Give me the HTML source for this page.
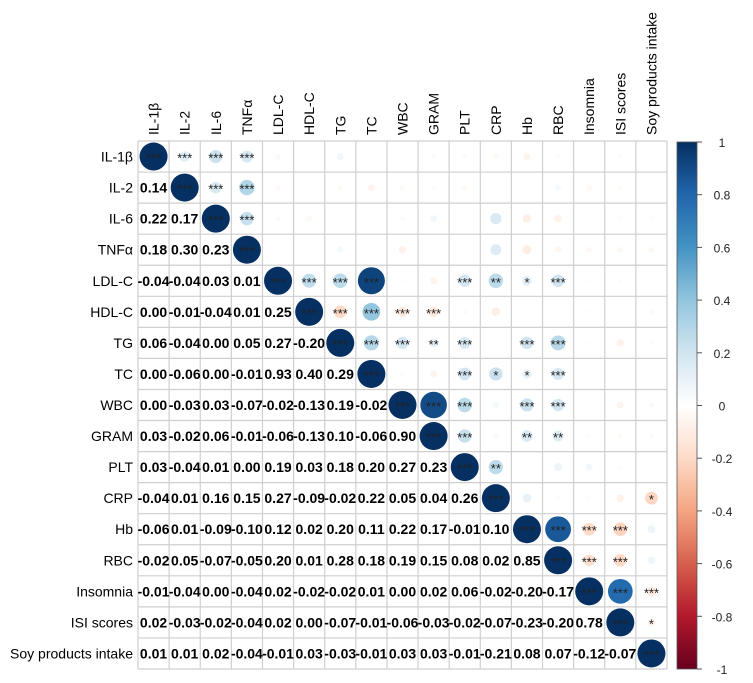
<!DOCTYPE html>
<html><head><meta charset="utf-8"><style>
body{margin:0;background:#fff;}
svg{display:block;font-family:"Liberation Sans",sans-serif;}
</style></head><body>
<svg id="chart" width="753" height="683" viewBox="0 0 753 683"></svg>
<script>
const labels=["IL-1β","IL-2","IL-6","TNFα","LDL-C","HDL-C","TG","TC","WBC","GRAM","PLT","CRP","Hb","RBC","Insomnia","ISI scores","Soy products intake"];
const lower=[
[],
[0.14],
[0.22,0.17],
[0.18,0.30,0.23],
[-0.04,-0.04,0.03,0.01],
[0.00,-0.01,-0.04,0.01,0.25],
[0.06,-0.04,0.00,0.05,0.27,-0.20],
[0.00,-0.06,0.00,-0.01,0.93,0.40,0.29],
[0.00,-0.03,0.03,-0.07,-0.02,-0.13,0.19,-0.02],
[0.03,-0.02,0.06,-0.01,-0.06,-0.13,0.10,-0.06,0.90],
[0.03,-0.04,0.01,0.00,0.19,0.03,0.18,0.20,0.27,0.23],
[-0.04,0.01,0.16,0.15,0.27,-0.09,-0.02,0.22,0.05,0.04,0.26],
[-0.06,0.01,-0.09,-0.10,0.12,0.02,0.20,0.11,0.22,0.17,-0.01,0.10],
[-0.02,0.05,-0.07,-0.05,0.20,0.01,0.28,0.18,0.19,0.15,0.08,0.02,0.85],
[-0.01,-0.04,0.00,-0.04,0.02,-0.02,-0.02,0.01,0.00,0.02,0.06,-0.02,-0.20,-0.17],
[0.02,-0.03,-0.02,-0.04,0.02,0.00,-0.07,-0.01,-0.06,-0.03,-0.02,-0.07,-0.23,-0.20,0.78],
[0.01,0.01,0.02,-0.04,-0.01,0.03,-0.03,-0.01,0.03,0.03,-0.01,-0.21,0.08,0.07,-0.12,-0.07]
];
// significance stars for upper triangle: [row, col, stars]
const stars=[
[0,1,"***"],[0,2,"***"],[0,3,"***"],[1,2,"***"],[1,3,"***"],[2,3,"***"],
[4,5,"***"],[4,6,"***"],[4,7,"***"],[4,10,"***"],[4,11,"**"],[4,12,"*"],[4,13,"***"],
[5,6,"***"],[5,7,"***"],[5,8,"***"],[5,9,"***"],
[6,7,"***"],[6,8,"***"],[6,9,"**"],[6,10,"***"],[6,12,"***"],[6,13,"***"],
[7,10,"***"],[7,11,"*"],[7,12,"*"],[7,13,"***"],
[8,9,"***"],[8,10,"***"],[8,12,"***"],[8,13,"***"],
[9,10,"***"],[9,12,"**"],[9,13,"**"],[10,11,"**"],[11,16,"*"],
[12,13,"***"],[12,14,"***"],[12,15,"***"],[13,14,"***"],[13,15,"***"],
[14,15,"***"],[14,16,"***"],[15,16,"*"]
];
const cbTicks=[1,0.8,0.6,0.4,0.2,0,-0.2,-0.4,-0.6,-0.8,-1];
const pal=["#67001F","#B2182B","#D6604D","#F4A582","#FDDBC7","#FFFFFF","#D1E5F0","#92C5DE","#4393C3","#2166AC","#053061"];

const NS="http://www.w3.org/2000/svg";
const svg=document.getElementById("chart");
const n=labels.length, x0=138, y0=141, cw=(667-138)/n, ch=(669-141)/n;
const cx=j=>x0+(j+0.5)*cw, cy=i=>y0+(i+0.5)*ch;
function hex(h){return [1,3,5].map(k=>parseInt(h.substr(k,2),16));}
function color(r){const t=(r+1)/2*(pal.length-1);const k=Math.min(Math.floor(t),pal.length-2);const f=t-k;
 const a=hex(pal[k]),b=hex(pal[k+1]);return "rgb("+a.map((v,q)=>Math.round(v+(b[q]-v)*f)).join(",")+")";}
function el(tag,attrs,parent){const e=document.createElementNS(NS,tag);for(const k in attrs)e.setAttribute(k,attrs[k]);(parent||svg).appendChild(e);return e;}
function corr(i,j){if(i===j)return 1;return i>j?lower[i][j]:lower[j][i];}

const grid=el("g",{});


for(let k=0;k<=n;k++){
 el("line",{x1:x0,x2:x0+n*cw,y1:y0+k*ch,y2:y0+k*ch,stroke:"#cfcfcf","stroke-width":1.2},grid);
 el("line",{y1:y0,y2:y0+n*ch,x1:x0+k*cw,x2:x0+k*cw,stroke:"#cfcfcf","stroke-width":1.2},grid);
}
for(let i=0;i<n;i++){
 const rl=el("text",{x:133,y:cy(i)+5,"text-anchor":"end","font-size":14,fill:"#000"});
 rl.textContent=labels[i];
 
 
 const cl=el("text",{transform:`translate(${cx(i)+5},135) rotate(-90)`,"font-size":14,fill:"#000"});
 cl.textContent=labels[i];
 
 
}
for(let i=0;i<n;i++)for(let j=0;j<n;j++){
 const r=corr(i,j);
 if(j>=i){
  const c=el("circle",{cx:cx(j),cy:cy(i),r:0.45*cw*Math.sqrt(Math.abs(r)),fill:color(r)});
  
  
 }else{
  const t=el("text",{x:cx(j),y:cy(i)+5,"text-anchor":"middle","font-size":14,"font-weight":"bold",fill:"#000"});
  t.textContent=r.toFixed(2);
  
  
 }
}
const allStars=stars.concat(labels.map((_,i)=>[i,i,"***"]));
for(const s of allStars){
 const t=el("text",{x:cx(s[1]),y:cy(s[0])+6,"text-anchor":"middle","font-size":13,fill:"#222"});
 t.textContent=s[2];
 
 
}
// colorbar
const defs=el("defs",{});
const lg=el("linearGradient",{id:"cb",x1:0,y1:1,x2:0,y2:0},defs);
pal.forEach((c,k)=>el("stop",{offset:k/(pal.length-1),"stop-color":c},lg));
const bx=677,bt=142,bb=669;
const bar=el("rect",{x:bx,y:bt,width:20,height:bb-bt,fill:"url(#cb)",stroke:"#555","stroke-width":0.8});


const by=v=>bt+(1-v)/2*(bb-bt);
for(const v of cbTicks){
 el("line",{x1:bx+20,x2:bx+25,y1:by(v),y2:by(v),stroke:"#555"});
 const t=el("text",{x:722,y:by(v)+5,"text-anchor":"middle","font-size":12,fill:"#222"});
 t.textContent=String(v);
 
 
}
</script>
</body></html>
